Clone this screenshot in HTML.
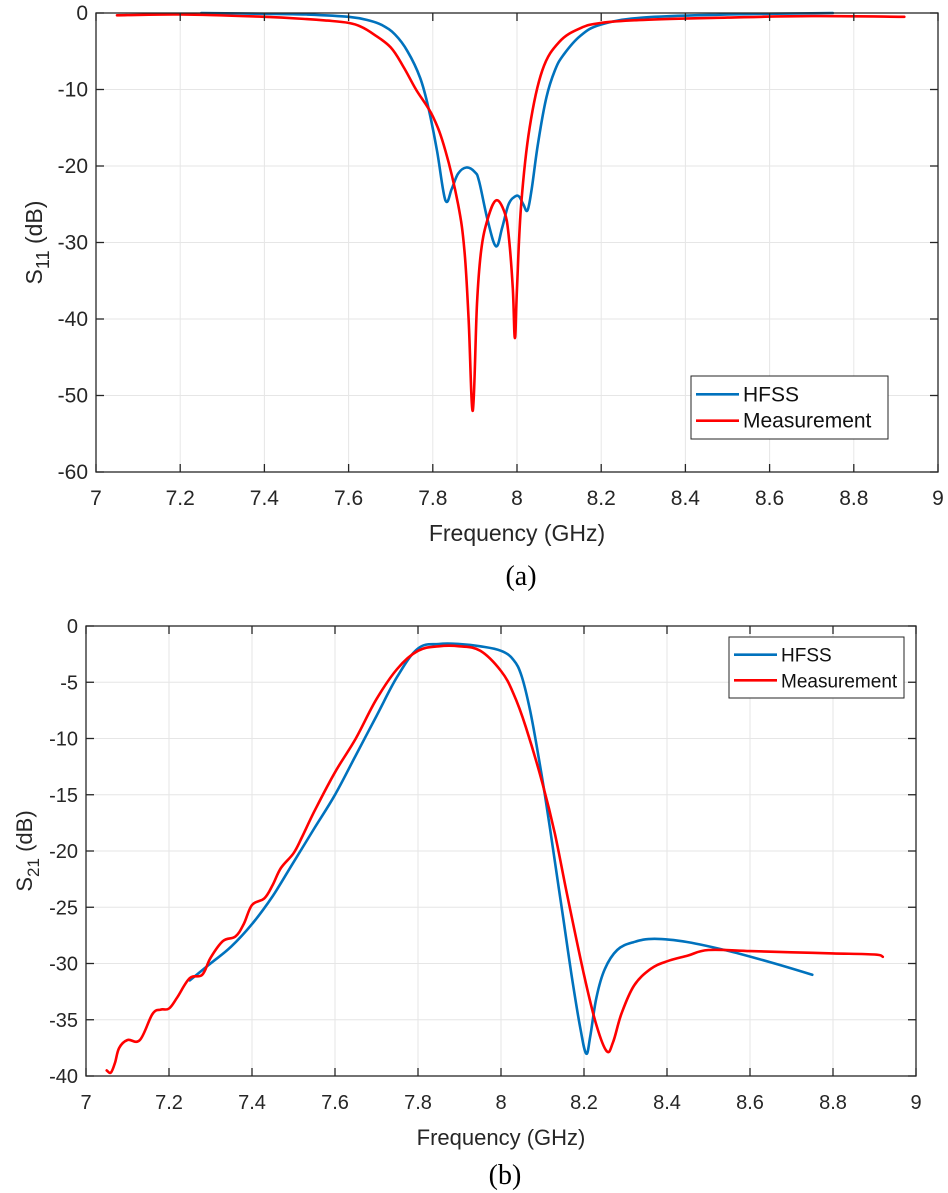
<!DOCTYPE html>
<html><head><meta charset="utf-8"><style>
body{margin:0;background:#fff;}
svg{display:block;font-family:"Liberation Sans",sans-serif;}
</style></head><body>
<svg id="fig" width="948" height="1193" viewBox="0 0 948 1193"></svg>
<script>
// ---- Chart (a) data: S11 ----
const xTicks=[7,7.2,7.4,7.6,7.8,8,8.2,8.4,8.6,8.8,9];
const xTickLabels=["7","7.2","7.4","7.6","7.8","8","8.2","8.4","8.6","8.8","9"];
const aYTicks=[0,-10,-20,-30,-40,-50,-60];
const aHfssX=[7.25,7.4,7.5,7.6,7.65,7.68,7.71,7.74,7.77,7.79,7.81,7.83,7.845,7.86,7.88,7.9,7.91,7.93,7.95,7.965,7.98,7.995,8.005,8.015,8.025,8.035,8.05,8.07,8.09,8.11,8.15,8.2,8.3,8.5,8.75];
const aHfssY=[0,-0.1,-0.2,-0.5,-1,-1.6,-2.8,-5,-8.5,-12.5,-18,-24.5,-23,-21,-20.2,-20.8,-22,-27,-30.5,-28,-25,-24,-24,-25,-25.8,-23,-17,-11,-7.5,-5.5,-3,-1.5,-0.6,-0.2,0];
const aMeasX=[7.05,7.2,7.4,7.5,7.55,7.6,7.63,7.66,7.7,7.73,7.76,7.8,7.83,7.86,7.875,7.885,7.895,7.905,7.915,7.93,7.95,7.97,7.98,7.99,7.995,8.0,8.01,8.03,8.06,8.1,8.15,8.2,8.3,8.5,8.7,8.92];
const aMeasY=[-0.3,-0.2,-0.5,-0.8,-1,-1.3,-1.8,-2.8,-4.5,-7,-10,-13.5,-18,-25,-31,-40,-52,-38,-31,-27,-24.5,-26,-29,-36,-42.5,-36,-25,-15,-7.5,-3.8,-2,-1.3,-0.9,-0.6,-0.4,-0.5];
// ---- Chart (b) data: S21 ----
const bYTicks=[0,-5,-10,-15,-20,-25,-30,-35,-40];
const bHfssX=[7.25,7.3,7.35,7.4,7.45,7.5,7.55,7.6,7.65,7.7,7.75,7.8,7.85,7.9,7.95,8.0,8.03,8.05,8.07,8.09,8.11,8.13,8.15,8.17,8.19,8.205,8.215,8.23,8.25,8.28,8.32,8.37,8.45,8.55,8.65,8.75];
const bHfssY=[-31.5,-30,-28.5,-26.5,-24,-21,-18,-15,-11.5,-8,-4.5,-2,-1.6,-1.6,-1.8,-2.2,-3,-4.5,-7.5,-11.5,-16,-21,-26,-31,-35.5,-38,-36.5,-33,-30.5,-28.8,-28.1,-27.8,-28.1,-28.9,-29.9,-31];
const bMeasX=[7.05,7.06,7.07,7.08,7.1,7.13,7.16,7.18,7.2,7.22,7.25,7.28,7.3,7.33,7.36,7.38,7.4,7.43,7.45,7.47,7.5,7.52,7.55,7.6,7.65,7.7,7.75,7.8,7.85,7.9,7.95,8.0,8.03,8.06,8.1,8.13,8.16,8.2,8.23,8.255,8.27,8.29,8.32,8.36,8.4,8.45,8.5,8.6,8.7,8.8,8.9,8.92];
const bMeasY=[-39.5,-39.7,-38.8,-37.5,-36.8,-36.8,-34.5,-34.1,-34,-33,-31.3,-31,-29.5,-28,-27.6,-26.5,-24.8,-24.2,-23,-21.5,-20.2,-18.8,-16.5,-13,-10,-6.5,-3.8,-2.2,-1.8,-1.8,-2.2,-4,-6,-9,-14,-18.5,-24,-31,-35.5,-37.8,-37,-34.5,-32,-30.5,-29.8,-29.3,-28.8,-28.9,-29,-29.1,-29.2,-29.4];

const NS="http://www.w3.org/2000/svg";
const svg=document.getElementById('fig');
function mk(tag,attrs,parent){const e=document.createElementNS(NS,tag);for(const k in attrs)e.setAttribute(k,attrs[k]);(parent||svg).appendChild(e);return e;}

function smoothPath(p){
  let d='M'+p[0][0].toFixed(1)+','+p[0][1].toFixed(1);
  for(let i=0;i<p.length-1;i++){
    const p0=p[i-1]||p[i],p1=p[i],p2=p[i+1],p3=p[i+2]||p2;
    const t=0.18;
    let c1y=p1[1]+(p2[1]-p0[1])*t, c2y=p2[1]-(p3[1]-p1[1])*t;
    const lo=Math.min(p1[1],p2[1]),hi=Math.max(p1[1],p2[1]);
    c1y=Math.max(lo-6,Math.min(hi+6,c1y));c2y=Math.max(lo-6,Math.min(hi+6,c2y));
    const c1x=p1[0]+(p2[0]-p0[0])*t, c2x=p2[0]-(p3[0]-p1[0])*t;
    d+=' C'+c1x.toFixed(1)+','+c1y.toFixed(1)+' '+c2x.toFixed(1)+','+c2y.toFixed(1)+' '+p2[0].toFixed(1)+','+p2[1].toFixed(1);
  }
  return d;
}

function drawChart(cfg){
  const g=mk('g',{});
  
  
  const sx=v=>cfg.L+(v-7)/2*(cfg.R-cfg.L);
  const sy=v=>cfg.T+(cfg.y0-v)/(cfg.y0-cfg.y1)*(cfg.B-cfg.T);
  xTicks.forEach(t=>{if(t>7&&t<9){const l=mk('line',{x1:sx(t),x2:sx(t),y1:cfg.T,y2:cfg.B,stroke:'#e6e6e6','stroke-width':1},g);}});
  cfg.yt.forEach(t=>{if(t<cfg.y0&&t>cfg.y1){const l=mk('line',{x1:cfg.L,x2:cfg.R,y1:sy(t),y2:sy(t),stroke:'#e6e6e6','stroke-width':1},g);}});
  [[cfg.hx,cfg.hy,'#0072bd','hfss-line'],[cfg.mx,cfg.my,'#ff0000','measurement-line']].forEach(s=>{
    const pts=s[0].map((x,i)=>[sx(x),sy(s[1][i])]);
    const p=mk('path',{d:smoothPath(pts),fill:'none',stroke:s[2],'stroke-width':2.6,'stroke-linejoin':'round','stroke-linecap':'round'},g);
    
    
  });
  const bx=mk('rect',{x:cfg.L,y:cfg.T,width:cfg.R-cfg.L,height:cfg.B-cfg.T,fill:'none',stroke:'#262626','stroke-width':1.3},g);
  
  
  xTicks.forEach((t,i)=>{
    mk('line',{x1:sx(t),x2:sx(t),y1:cfg.B,y2:cfg.B-8,stroke:'#262626','stroke-width':1.3},g);
    mk('line',{x1:sx(t),x2:sx(t),y1:cfg.T,y2:cfg.T+8,stroke:'#262626','stroke-width':1.3},g);
    const tx=mk('text',{x:sx(t),y:cfg.B+33,'text-anchor':'middle','font-size':cfg.fs,fill:'#262626'},g);
    tx.textContent=xTickLabels[i];
    
    
  });
  cfg.yt.forEach(t=>{
    mk('line',{x1:cfg.L,x2:cfg.L+8,y1:sy(t),y2:sy(t),stroke:'#262626','stroke-width':1.3},g);
    mk('line',{x1:cfg.R,x2:cfg.R-8,y1:sy(t),y2:sy(t),stroke:'#262626','stroke-width':1.3},g);
    const tx=mk('text',{x:cfg.L-8,y:sy(t)+7,'text-anchor':'end','font-size':cfg.fs,fill:'#262626'},g);
    tx.textContent=String(t);
    
    
  });
  const xl=mk('text',{x:(cfg.L+cfg.R)/2,y:cfg.xly,'text-anchor':'middle','font-size':cfg.fs+2,fill:'#262626'},g);
  xl.textContent='Frequency (GHz)';
  
  
  const yl=mk('text',{transform:`translate(${cfg.ylx},${(cfg.T+cfg.B)/2}) rotate(-90)`,'text-anchor':'middle','font-size':cfg.fs+2,fill:'#262626'},g);
  yl.innerHTML='S<tspan dy="7" font-size="'+(cfg.fs-3)+'">'+cfg.sub+'</tspan><tspan dy="-7"> (dB)</tspan>';
  
  
  const lg=mk('g',{},g);
  
  
  mk('rect',{x:cfg.lg[0],y:cfg.lg[1],width:cfg.lg[2],height:cfg.lg[3],fill:'#fff',stroke:'#262626','stroke-width':1},lg);
  [['HFSS','#0072bd'],['Measurement','#ff0000']].forEach((e,i)=>{
    const yy=cfg.lg[1]+cfg.lg[3]*(i===0?0.29:0.71);
    const en=mk('g',{},lg);
    
    
    mk('line',{x1:cfg.lg[0]+5,x2:cfg.lg[0]+48,y1:yy,y2:yy,stroke:e[1],'stroke-width':2.6},en);
    const t=mk('text',{x:cfg.lg[0]+52,y:yy+7,'font-size':cfg.lfs,fill:'#111'},en);
    t.textContent=e[0];
  });
  const c=mk('text',{x:(cfg.L+cfg.R)/2+4,y:cfg.capy,'text-anchor':'middle','font-size':28,'font-family':'Liberation Serif, serif',fill:'#000'},g);
  c.textContent=cfg.cap;
  
  
}

drawChart({name:'s11-chart',L:96,R:938,T:13,B:472,y0:0,y1:-60,yt:aYTicks,hx:aHfssX,hy:aHfssY,mx:aMeasX,my:aMeasY,fs:21,lfs:21,xly:541,ylx:42,sub:'11',lg:[691,376,197,63],cap:'(a)',capy:585});
drawChart({name:'s21-chart',L:86,R:916,T:626,B:1076,y0:0,y1:-40,yt:bYTicks,hx:bHfssX,hy:bHfssY,mx:bMeasX,my:bMeasY,fs:20,lfs:19,xly:1145,ylx:32,sub:'21',lg:[729,637,175,61],cap:'(b)',capy:1184});
</script>
</body></html>
